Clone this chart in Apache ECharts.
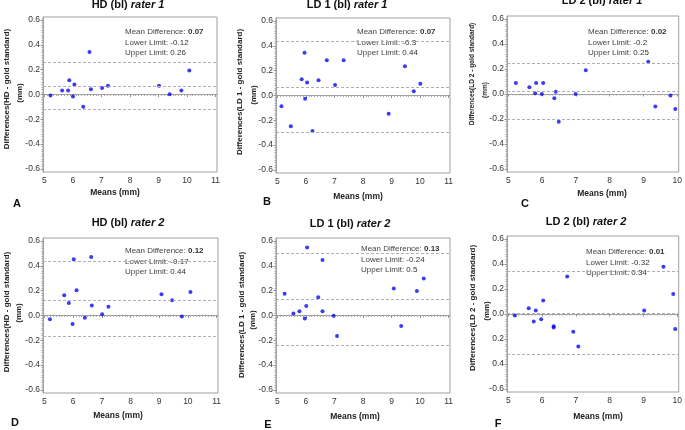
<!DOCTYPE html>
<html><head><meta charset="utf-8">
<script src="https://cdn.jsdelivr.net/npm/echarts@6/dist/echarts.min.js"></script>
<style>html,body{margin:0;padding:0;background:#fff}#c{width:685px;height:430px}</style>
</head><body><div id="c"></div>
<script>
// ---------- data ----------
const panelLetters = ['A','B','C','D','E','F'];
const measures = ['HD','LD 1','LD 2','HD','LD 1','LD 2'];
const raters = ['rater 1','rater 1','rater 1','rater 2','rater 2','rater 2'];
const meanDiff = [0.07, 0.07, 0.02, 0.12, 0.13, 0.01];
const lowerLimit = [-0.12, -0.3, -0.2, -0.17, -0.24, -0.32];
const upperLimit = [0.26, 0.44, 0.25, 0.44, 0.5, 0.34];
const xTicksWide = [5,6,7,8,9,10,11];
const xTicksNarrow = [5,6,7,8,9,10];
const yTicks = [-0.6,-0.4,-0.2,0,0.2,0.4,0.6];
const yTickLabels = ['-0.6','-0.4','-0.2','0.0','0.2','0.4','0.6'];
const yTickLabelsF = ['-0.6','0.4','0.2','0.0','0.2','0.4','0.6'];

const meansA = [5.21,5.62,5.83,5.87,6.05,6.00,6.36,6.58,6.63,7.02,7.23,9.02,9.39,9.80,10.08];
const diffsA = [-0.008,0.033,0.033,0.114,0.081,-0.016,-0.098,0.342,0.043,0.052,0.071,0.071,0.003,0.033,0.193];
const meansB = [5.14,5.47,5.85,5.95,5.97,6.04,6.23,6.44,6.73,7.02,7.32,8.90,9.47,9.78,10.01];
const diffsB = [-0.087,-0.248,0.131,0.344,-0.027,0.104,-0.286,0.123,0.284,0.085,0.284,-0.147,0.235,0.035,0.095];
const meansC = [5.22,5.62,5.82,5.79,5.99,6.03,6.40,6.36,6.49,6.99,7.29,9.14,9.35,9.80,9.94];
const diffsC = [0.088,0.055,0.088,0.007,-0.001,0.088,0.018,-0.034,-0.222,-0.001,0.190,0.258,-0.101,-0.012,-0.120];
const meansD = [5.19,5.69,5.85,5.98,6.02,6.12,6.41,6.63,6.65,7.01,7.23,9.08,9.45,9.79,10.09];
const diffsD = [-0.030,0.163,0.100,-0.068,0.453,0.204,-0.019,0.472,0.081,0.011,0.071,0.171,0.122,-0.008,0.190];
const meansE = [5.25,5.56,5.77,5.96,6.01,6.04,6.43,6.58,6.58,6.97,7.09,9.08,9.34,9.89,10.13];
const diffsE = [0.176,0.016,0.035,-0.024,0.076,0.548,0.147,0.448,0.035,-0.003,-0.166,0.217,-0.084,0.198,0.299];
const meansF = [5.19,5.60,5.81,5.75,5.97,6.03,6.34,6.34,6.74,6.92,7.07,9.02,9.59,9.88,9.94];
const diffsF = [-0.012,0.047,0.028,-0.061,-0.042,0.109,-0.098,-0.109,0.301,-0.142,-0.260,0.028,0.379,0.160,-0.120];

const allMeans = [meansA,meansB,meansC,meansD,meansE,meansF];
const allDiffs = [diffsA,diffsB,diffsC,diffsD,diffsE,diffsF];
const allXTicks = [xTicksWide,xTicksWide,xTicksNarrow,xTicksWide,xTicksWide,xTicksNarrow];
const allYLabels = [yTickLabels,yTickLabels,yTickLabels,yTickLabels,yTickLabels,yTickLabelsF];

// ---------- layout ----------
const grids = [
  {left:43, top:17, width:174, height:155},
  {left:276, top:18, width:174, height:155},
  {left:507, top:16, width:174, height:156},
  {left:43, top:238, width:175, height:155},
  {left:276, top:238, width:174, height:155},
  {left:507, top:236, width:174, height:156}
];
const titlePos = [[128,5],[347,5],[602,1],[128,223],[350,224],[586,222]];
const notePos = [[125,32],[357,32],[588,32],[125,251],[361,249],[586,252]];
const yName1Pos = [[7,89],[240,92],[472,74],[7,312],[242,315],[473,308]];
const yName2Pos = [[20,93],[254,95],[485,90],[19,313],[253,320],[487,311]];
const yNameSize = [8,8,6.5,8,8,8];
const xNamePos = [[115,193],[358,197],[602,194],[118,416],[355,417],[598,417]];
const letterPos = [[17,204],[267,202],[525,204],[15,423],[268,425],[498,424]];

const FONT = '"Liberation Sans", Arial, sans-serif';
const NARROW = '"Liberation Sans Narrow", "Liberation Sans", Arial, sans-serif';

const option = {
  animation: false,
  backgroundColor: '#fff',
  grid: [], xAxis: [], yAxis: [], series: [], graphic: []
};

function minorList(ticks, n) {
  const out = [];
  for (let k = 0; k < ticks.length - 1; k++) {
    const step = (ticks[k+1] - ticks[k]) / n;
    for (let m = 1; m < n; m++) out.push(ticks[k] + step * m);
  }
  return out;
}

for (let i = 0; i < 6; i++) {
  const g = grids[i];
  option.grid.push({left:g.left, top:g.top, width:g.width, height:g.height, show:true, borderColor:'#a0a0a0', borderWidth:1, containLabel:false});
  const xt = allXTicks[i];
  const xmin = xt[0], xmax = xt[xt.length-1];
  const pad = (xmax - xmin) * 0.0085;
  // main x axis
  option.xAxis.push({
    type:'value', gridIndex:i, min:xmin - pad, max:xmax + pad,
    axisLine:{show:true, lineStyle:{color:'#a0a0a0'}},
    axisTick:{show:true, length:2.5, customValues:xt, lineStyle:{color:'#909090'}},
    axisLabel:{show:true, customValues:xt, margin:4, fontSize:8.5, color:'#333', fontFamily:FONT, formatter:v=>String(Math.round(v))},
    splitLine:{show:false}
  });
  const yl = allYLabels[i];
  option.yAxis.push({
    type:'value', gridIndex:i, min:-0.625, max:0.625,
    axisLine:{show:true, lineStyle:{color:'#a0a0a0'}},
    axisTick:{show:true, length:2.5, customValues:yTicks, lineStyle:{color:'#909090'}},
    axisLabel:{show:true, customValues:yTicks, margin:3, fontSize:8.5, color:'#333', fontFamily:FONT,
      formatter:v=>{ const k = yTicks.findIndex(t=>Math.abs(t-v)<1e-6); return k>=0 ? yl[k] : ''; }},
    splitLine:{show:false}
  });
  const pts = allMeans[i].map((m,j)=>[m, allDiffs[i][j]]);
  option.series.push({
    type:'scatter', xAxisIndex:i, yAxisIndex:i, data:pts,
    symbol:'circle', symbolSize:4, itemStyle:{color:'#0a0af0'},
    markLine:{
      silent:true, symbol:['none','none'], label:{show:false},
      lineStyle:{type:[3,2], color:'#b0b0b0', width:1},
      data:[{yAxis:upperLimit[i]},{yAxis:meanDiff[i]},{yAxis:lowerLimit[i]}]
    }
  });
  // title
  option.graphic.push({type:'text', x:titlePos[i][0], y:titlePos[i][1], style:{
    text:'{a|' + measures[i] + ' (bl) }{b|' + raters[i] + '}', align:'center', verticalAlign:'middle',
    rich:{a:{fontSize:11, fontWeight:'bold', fontFamily:FONT, fill:'#111'}, b:{fontSize:11, fontWeight:'bold', fontStyle:'italic', fontFamily:FONT, fill:'#111'}}
  }});
  // notes
  const notes = [['Mean Difference: ', String(meanDiff[i]), true],['Lower Limit: ', String(lowerLimit[i]), false],['Upper Limit: ', String(upperLimit[i]), false]];
  const dy = [0, 11, 21];
  notes.forEach((n,k)=>{
    option.graphic.push({type:'text', x:notePos[i][0], y:notePos[i][1] + dy[k], style:{
      text:'{l|' + n[0] + '}{v|' + n[1] + '}', align:'left', verticalAlign:'middle',
      rich:{l:{fontSize:8, fontFamily:FONT, fill:'#444'}, v:{fontSize:8, fontFamily:FONT, fill:'#333', fontWeight:n[2]?'bold':'normal'}}
    }});
  });
  // y name
  option.graphic.push({type:'text', x:yName1Pos[i][0], y:yName1Pos[i][1], rotation:Math.PI/2, style:{
    text:'Differences(' + measures[i] + ' - gold standard)', align:'center', verticalAlign:'middle',
    fontSize:yNameSize[i], fontWeight:'bold', fontFamily:NARROW, fill:'#222'}});
  option.graphic.push({type:'text', x:yName2Pos[i][0], y:yName2Pos[i][1], rotation:Math.PI/2, style:{
    text:'(mm)', align:'center', verticalAlign:'middle',
    fontSize:yNameSize[i], fontWeight:'bold', fontFamily:NARROW, fill:'#222'}});
  // x name
  option.graphic.push({type:'text', x:xNamePos[i][0], y:xNamePos[i][1], style:{
    text:'Means (mm)', align:'center', verticalAlign:'middle', fontSize:8.5, fontWeight:'bold', fontFamily:FONT, fill:'#222'}});
  // letter
  option.graphic.push({type:'text', x:letterPos[i][0], y:letterPos[i][1], style:{
    text:panelLetters[i], align:'center', verticalAlign:'middle', fontSize:11, fontWeight:'bold', fontFamily:FONT, fill:'#111'}});
}
// minor tick axes (ticks only, sharing each grid)
for (let i = 0; i < 6; i++) {
  const xt = allXTicks[i];
  const xmin = xt[0], xmax = xt[xt.length-1];
  const pad = (xmax - xmin) * 0.0085;
  option.xAxis.push({type:'value', gridIndex:i, min:xmin - pad, max:xmax + pad, position:'bottom',
    axisLine:{show:false}, axisLabel:{show:false}, splitLine:{show:false},
    axisTick:{show:true, length:1.5, customValues:minorList(xt, 10), lineStyle:{color:'#a8a8a8'}}});
  option.yAxis.push({type:'value', gridIndex:i, min:-0.625, max:0.625, position:'left',
    axisLine:{show:false}, axisLabel:{show:false}, splitLine:{show:false},
    axisTick:{show:true, length:1.5, customValues:minorList(yTicks, 10), lineStyle:{color:'#a8a8a8'}}});
}

const chart = echarts.init(document.getElementById('c'), null, {renderer:'canvas'});
chart.setOption(option);
</script>
</body></html>
